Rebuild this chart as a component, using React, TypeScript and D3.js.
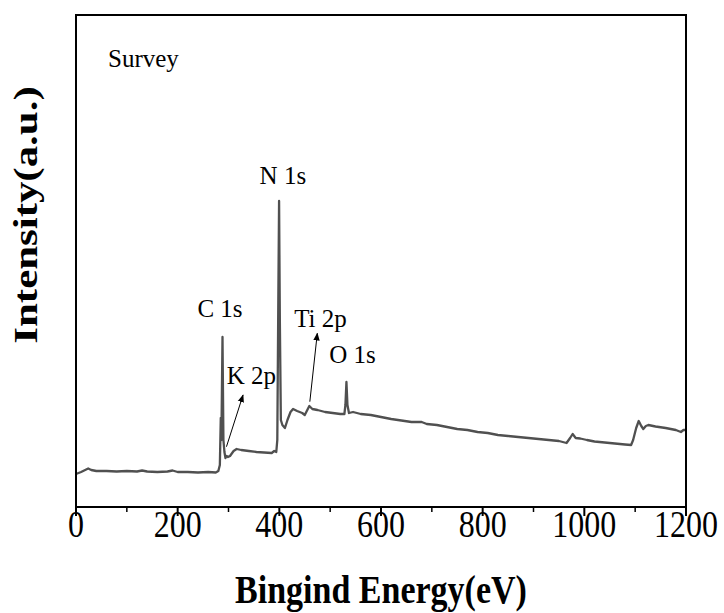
import React from "react";
import * as d3 from "d3";

const energy = [0,5,10,18,24,30,40,60,80,100,120,130,140,160,180,190,200,220,240,260,275,280,283,284.8,286,288.2,290,292,294,296,299,303,310,316,325,340,355,370,385,390,394,396,398,399.5,401,403,406,411,416,422,427,435,445,450,455,459,465,475,490,505,520,528,530,532,534,537,545,560,580,600,620,640,660,680,690,710,730,750,770,790,810,830,850,870,890,910,930,950,965,972,977,983,992,1005,1020,1040,1060,1080,1092,1096,1102,1107,1112,1116,1121,1126,1140,1160,1180,1190,1195,1200];
const intensity = [3300,3400,3500,3700,3850,3700,3600,3600,3550,3600,3550,3650,3550,3500,3550,3650,3500,3500,3450,3500,3450,3600,4200,8900,6700,17000,6700,5500,4900,5100,5000,5100,5600,5800,5700,5600,5500,5450,5400,5600,5500,6700,20700,30600,18700,8700,8200,7900,8700,9500,9800,9600,9400,9200,9700,10100,9800,9700,9500,9400,9300,9300,10200,12500,10200,9400,9500,9300,9200,9000,8800,8650,8500,8500,8300,8200,8000,7800,7700,7500,7400,7200,7100,7000,6900,6800,6700,6600,6400,6900,7300,6900,6850,6700,6550,6450,6350,6250,6200,6700,7900,8600,8100,7800,8100,8200,8050,7900,7700,7500,7700,7700];

const xTicks = [0,200,400,600,800,1000,1200];
const xMinorTicks = [100,300,500,700,900,1100];

const peakLabels = ["N 1s","C 1s","K 2p","Ti 2p","O 1s"];
const peakLabelX = [407,283.3,344.9,481,544];
const peakLabelY = [32300,19030,12300,18050,14450];

const arrowFromX = [296,460];
const arrowFromY = [6030,10530];
const arrowToX = [328.6,474.7];
const arrowToY = [11200,17370];

const W = 724, H = 613;
const left = 76, right = 686, top = 15, bottom = 507;

export default function App() {
  const x = d3.scaleLinear().domain([0,1200]).range([left,right]);
  const y = d3.scaleLinear().domain([0,49200]).range([bottom,top]);
  const pts = energy.map((e,i)=>[e,intensity[i]] as [number,number]);
  const line = d3.line<[number,number]>().x(d=>x(d[0])).y(d=>y(d[1]));
  const font = "'Liberation Serif','Times New Roman',serif";
  return (
    <svg width={W} height={H} style={{position:"absolute",left:0,top:0,background:"#fff"}} fontFamily={font}>
      <defs>
        <marker id="ah" viewBox="0 0 10 10" refX="9" refY="5" markerWidth="8" markerHeight="8" orient="auto" markerUnits="userSpaceOnUse">
          <path d="M0,1 L10,5 L0,9 z" fill="#000"/>
        </marker>
      </defs>
      <path d={line(pts)!} fill="none" stroke="#505050" strokeWidth={2.3} strokeLinejoin="round"/>
      <rect x={left} y={top} width={right-left} height={bottom-top} fill="none" stroke="#000" strokeWidth={2}/>
      {xTicks.map(t=>(
        <g key={t}>
          <line x1={x(t)} x2={x(t)} y1={bottom} y2={bottom+9} stroke="#000" strokeWidth={2}/>
          <text transform={`translate(${x(t)},537) scale(1,1.2)`} textAnchor="middle" fontSize={32}>{t}</text>
        </g>
      ))}
      {xMinorTicks.map(t=>(
        <line key={t} x1={x(t)} x2={x(t)} y1={bottom} y2={bottom+5} stroke="#000" strokeWidth={1.5}/>
      ))}
      <text transform="translate(381,603) scale(1,1.2)" textAnchor="middle" fontSize={34} fontWeight="bold">Bingind Energy(eV)</text>
      <text transform="translate(37,215) scale(1,1.3) rotate(-90)" textAnchor="middle" fontSize={33} fontWeight="bold">Intensity(a.u.)</text>
      <text x={108} y={67} fontSize={25}>Survey</text>
      {peakLabels.map((l,i)=>(
        <text key={l} x={x(peakLabelX[i])} y={y(peakLabelY[i])} textAnchor="middle" fontSize={25}>{l}</text>
      ))}
      {arrowFromX.map((a,i)=>(
        <line key={i} x1={x(a)} y1={y(arrowFromY[i])} x2={x(arrowToX[i])} y2={y(arrowToY[i])} stroke="#000" strokeWidth={1} markerEnd="url(#ah)"/>
      ))}
    </svg>
  );
}
